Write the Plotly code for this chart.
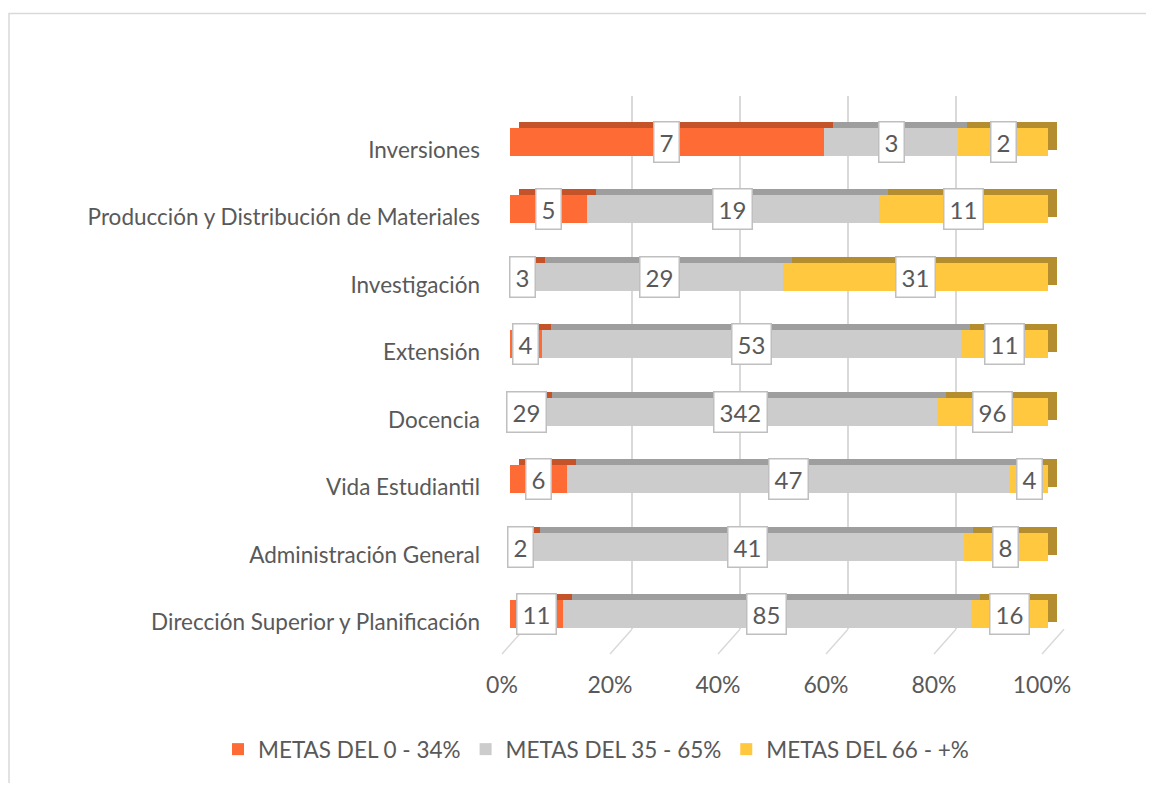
import plotly.graph_objects as go

categories = ["Dirección Superior y Planificación", "Administración General", "Vida Estudiantil",
              "Docencia", "Extensión", "Investigación",
              "Producción y Distribución de Materiales", "Inversiones"]
metas_0_34 = [11, 2, 6, 29, 4, 3, 5, 7]
metas_35_65 = [85, 41, 47, 342, 53, 29, 19, 3]
metas_66 = [16, 8, 4, 96, 11, 31, 11, 2]
series_names = ["METAS DEL 0 - 34%", "METAS DEL 35 - 65%", "METAS DEL 66 - +%"]
tick_vals = [0, 20, 40, 60, 80, 100]
tick_text = ["0%", "20%", "40%", "60%", "80%", "100%"]

front_colors = ["#FF6B35", "#CCCCCC", "#FFC83F"]
top_colors = ["#C5532A", "#9E9E9E", "#B38D2E"]
TXT = "#595959"
FONT = "Lato, 'Open Sans', sans-serif"

# the page body adds an 8px margin; work in screenshot pixels and shift
OFF = 8
FW, FH = 1154 - 2 * OFF, 791 - 2 * OFF
L, R, T, B = 502, 1064, 96, 659
W, H = R - L, B - T


def dxp(p0, p1):
    return [(p0 - L) / W, (p1 - L) / W]


def dyp(top, bot):
    return [(B - bot) / H, (B - top) / H]


grid_x, grid_y = dxp(524, 1064), dyp(96, 632)
back_x, back_y = dxp(519, 1057), dyp(102, 645)
front_x, front_y = dxp(510, 1048), dyp(108, 651)
lab_x, lab_y = dxp(502, 1042), dyp(116, 659)

series = [metas_0_34, metas_35_65, metas_66]
totals = [sum(v) for v in zip(*series)]
pct = [[100.0 * v / t for v, t in zip(s, totals)] for s in series]

fig = go.Figure()

# dummy traces for grid / label axes
fig.add_trace(go.Scatter(x=[0, 100], y=[0, 1], mode="markers", marker=dict(opacity=0),
                         hoverinfo="skip", showlegend=False, xaxis="x", yaxis="y"))
fig.add_trace(go.Scatter(x=[0, 100], y=[categories[0], categories[-1]], mode="markers",
                         marker=dict(opacity=0), hoverinfo="skip", showlegend=False,
                         xaxis="x4", yaxis="y4"))

BW = 0.41
# back (top/side faces)
for s, c in zip(pct, top_colors):
    fig.add_trace(go.Bar(y=categories, x=s, orientation="h", marker=dict(color=c, line=dict(width=0)),
                         width=BW, showlegend=False, hoverinfo="skip", xaxis="x2", yaxis="y2"))
# front faces
for s, c, n in zip(pct, front_colors, series_names):
    fig.add_trace(go.Bar(y=categories, x=s, orientation="h", name=n,
                         marker=dict(color=c, line=dict(width=0)),
                         width=BW, xaxis="x3", yaxis="y3"))

# data labels
annotations = []
for i, cat in enumerate(categories):
    cum = 0.0
    for k in range(3):
        p = pct[k][i]
        annotations.append(dict(
            x=cum + p / 2, y=cat, xref="x3", yref="y3", text=str(series[k][i]),
            showarrow=False, bgcolor="white", bordercolor="#BFBFBF", borderwidth=1.5,
            borderpad=5, font=dict(family=FONT, size=24, color=TXT)))
        cum += p

# floor lines of the gridlines
shapes = []
for v in tick_vals:
    xb = grid_x[0] + v / 100 * (grid_x[1] - grid_x[0])
    xf = lab_x[0] + v / 100 * (lab_x[1] - lab_x[0])
    shapes.append(dict(type="line", xref="paper", yref="paper", x0=xb, y0=grid_y[0],
                       x1=xf, y1=(B - 657) / H,
                       line=dict(color="#D9D9D9", width=1.5), layer="below"))
# chart frame (left and top edges visible)
fx0, fy_top, fy_bot, fx1 = (9 - L) / W, (B - 13) / H, (B - 800) / H, (1170 - L) / W
shapes.append(dict(type="path", xref="paper", yref="paper",
                   path=f"M {fx0},{fy_bot} L {fx0},{fy_top} L {fx1},{fy_top}",
                   line=dict(color="#D9D9D9", width=1.5), layer="below"))

cat_axis = dict(type="category", categoryorder="array", categoryarray=categories, range=[-0.5, 7.5])

fig.update_layout(
    width=FW, height=FH,
    margin=dict(l=L - OFF, r=FW - (R - OFF), t=T - OFF, b=FH - (B - OFF)),
    paper_bgcolor="white", plot_bgcolor="rgba(0,0,0,0)",
    barmode="stack",
    font=dict(family=FONT, color=TXT, size=22),
    xaxis=dict(domain=grid_x, range=[0, 100], tickvals=tick_vals, showticklabels=False,
               showgrid=True, gridcolor="#D9D9D9", gridwidth=1.5, zeroline=False, showline=False,
               anchor="y"),
    yaxis=dict(domain=grid_y, range=[0, 1], visible=False, anchor="x"),
    xaxis2=dict(domain=back_x, range=[0, 100], visible=False, anchor="y2"),
    yaxis2=dict(domain=back_y, visible=False, anchor="x2", **cat_axis),
    xaxis3=dict(domain=front_x, range=[0, 100], visible=False, anchor="y3"),
    yaxis3=dict(domain=front_y, visible=False, anchor="x3", **cat_axis),
    xaxis4=dict(domain=lab_x, range=[0, 100], tickvals=tick_vals, ticktext=tick_text,
                showgrid=False, zeroline=False, showline=False, ticks="", ticklabelstandoff=13,
                tickfont=dict(size=23, color=TXT), anchor="y4"),
    yaxis4=dict(domain=lab_y, anchor="x4", showgrid=False, zeroline=False, showline=False,
                ticks="", ticklabelstandoff=21, tickfont=dict(size=22.5, color=TXT), **cat_axis),
    legend=dict(orientation="h", xref="paper", yref="paper",
                x=(218 - L) / W, y=(B - 753) / H,
                xanchor="left", yanchor="middle", font=dict(size=22.5, color=TXT),
                traceorder="normal", itemclick=False),
    annotations=annotations,
    shapes=shapes,
    showlegend=True,
)

fig.write_html("out.html")
